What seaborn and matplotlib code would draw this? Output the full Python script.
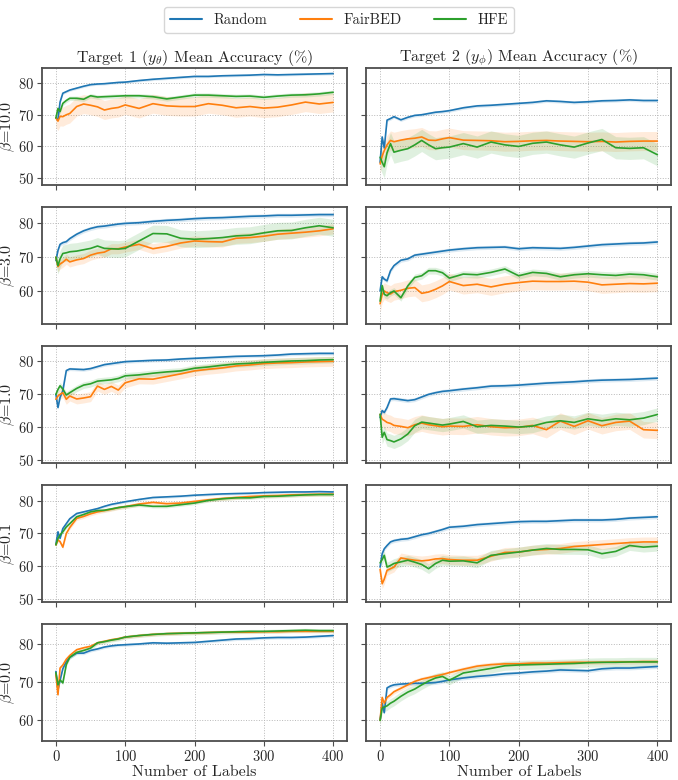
import numpy as np
import matplotlib
matplotlib.use('Agg')
import matplotlib.pyplot as plt
from matplotlib.ticker import MultipleLocator
import seaborn as sns

# Data (mean accuracy %, per number of labels)
X = [0, 3, 6, 10, 15, 20, 30, 40, 50, 60, 70, 80, 90, 100, 120, 140, 160, 180,
     200, 220, 240, 260, 280, 300, 320, 340, 360, 380, 400]

methods = ['Random', 'FairBED', 'HFE']
betas = ['10.0', '3.0', '1.0', '0.1', '0.0']

# Target 1
t1_b10_random = [69, 68.5, 74, 76.8, 77.3, 77.8, 78.4, 79, 79.5, 79.7, 79.8, 80, 80.2, 80.3, 80.8, 81.2, 81.5, 81.8, 82.1, 82.1, 82.3, 82.4, 82.5, 82.7, 82.6, 82.7, 82.8, 82.9, 83.0]
t1_b10_fairbed = [69, 68, 69.5, 69.4, 70, 70.4, 72.6, 73.4, 73, 72.5, 71.5, 72, 72.3, 73.1, 72, 73.5, 72.8, 72.6, 72.6, 73.5, 73, 72.2, 72.6, 72.1, 72.4, 73.1, 74, 73.4, 73.9]
t1_b10_hfe = [69, 72, 71, 73.6, 74.5, 75.2, 75.2, 74.9, 76, 75.6, 75.7, 75.8, 75.9, 76, 76, 75.7, 75, 75.6, 76.2, 76.2, 76, 75.8, 75.9, 75.5, 75.9, 76.2, 76.3, 76.6, 77.1]

t1_b3_random = [69, 72, 73.8, 74.3, 74.6, 75.5, 76.8, 77.8, 78.5, 79, 79.2, 79.5, 79.8, 80, 80.2, 80.6, 80.9, 81.1, 81.4, 81.6, 81.7, 81.9, 82.1, 82.2, 82.4, 82.4, 82.5, 82.6, 82.6]
t1_b3_fairbed = [70, 67.2, 68, 68.5, 69.4, 68.6, 69.2, 69.6, 70.6, 71.2, 71.5, 72.5, 72.5, 73, 73.8, 72.5, 73.2, 74.2, 74.8, 74.6, 74.5, 75.6, 75.8, 76.2, 76.8, 77.1, 77.4, 77.8, 78.4]
t1_b3_hfe = [70, 67.5, 69.5, 71.1, 71.3, 71.6, 71.8, 72.2, 72.6, 73.3, 72.6, 72.5, 72.4, 72.6, 74.8, 77, 76.9, 75.6, 75.3, 75.5, 75.8, 76.3, 76.5, 77.2, 77.8, 77.9, 78.7, 79.3, 78.7]

t1_b1_random = [70, 66, 69.1, 71.1, 77.2, 77.7, 77.6, 77.5, 77.8, 78.4, 79, 79.3, 79.6, 79.9, 80.1, 80.3, 80.4, 80.7, 80.9, 81.1, 81.3, 81.5, 81.6, 81.7, 81.9, 82.2, 82.3, 82.4, 82.4]
t1_b1_fairbed = [68.5, 69.5, 70, 70.5, 68.5, 69.5, 68.6, 68.9, 69.3, 72.5, 71.5, 72.4, 71.3, 73.5, 74.7, 74.6, 75.4, 76.2, 77.1, 77.6, 78, 78.6, 78.9, 79.3, 79.5, 79.6, 79.8, 79.9, 80]
t1_b1_hfe = [70, 71.5, 72.6, 71.6, 69.8, 70.5, 71.8, 72.8, 73.2, 74, 74.2, 74.4, 74.8, 75.6, 75.9, 76.4, 76.8, 77.1, 77.9, 78.3, 78.8, 79.2, 79.4, 79.7, 79.9, 80.1, 80.2, 80.4, 80.5]

t1_b01_random = [66.7, 70.5, 68.5, 71.5, 73, 74.5, 76.1, 76.6, 77.1, 77.6, 78.3, 78.9, 79.3, 79.7, 80.4, 81, 81.2, 81.4, 81.7, 81.9, 82.1, 82.2, 82.3, 82.5, 82.6, 82.7, 82.7, 82.8, 82.7]
t1_b01_fairbed = [66.5, 68, 67.5, 65.8, 70, 71.8, 74.6, 75.2, 76, 76.6, 77, 77.4, 77.9, 78.2, 79, 79.5, 79.1, 79.3, 79.8, 80.3, 80.7, 81, 81.3, 81.5, 81.6, 81.8, 81.9, 82, 82]
t1_b01_hfe = [66.5, 68.5, 69.5, 70.5, 72, 73, 75.1, 75.8, 76.6, 77, 77.1, 77.5, 77.9, 78.2, 78.7, 78.3, 78.3, 78.8, 79.3, 80.1, 80.6, 80.9, 80.9, 81.3, 81.4, 81.6, 81.8, 81.9, 81.9]

t1_b0_random = [72.8, 68, 70.5, 73.5, 75.4, 76.5, 77.6, 77.6, 78.3, 78.7, 79.2, 79.5, 79.7, 79.8, 80, 80.3, 80.2, 80.3, 80.4, 80.7, 81, 81.3, 81.4, 81.6, 81.7, 81.7, 81.8, 82, 82.2]
t1_b0_fairbed = [72, 66.7, 73.7, 74.5, 76, 77, 78.5, 79, 79.4, 80.3, 80.7, 81.1, 81.4, 81.8, 82.2, 82.5, 82.7, 82.8, 82.9, 83, 83.1, 83.1, 83.1, 83.2, 83.2, 83.3, 83.3, 83.3, 83.3]
t1_b0_hfe = [72.5, 69.3, 70.6, 69.8, 74.6, 76.5, 77.8, 78.3, 78.9, 80.3, 80.6, 81, 81.3, 81.8, 82.2, 82.5, 82.7, 82.8, 82.9, 83, 83.1, 83.2, 83.3, 83.3, 83.4, 83.5, 83.6, 83.5, 83.5]

# Target 2
t2_b10_random = [55, 63, 59.5, 68.3, 68.8, 69.4, 68.4, 69.2, 69.8, 70, 70.4, 70.8, 71, 71.3, 72.2, 72.8, 73, 73.3, 73.6, 73.9, 74.4, 74.2, 73.9, 74.1, 74.4, 74.5, 74.7, 74.5, 74.5]
t2_b10_fairbed = [54.5, 57, 58.7, 60.5, 61.9, 61.5, 62, 62.4, 62.6, 63, 62, 61.9, 62.4, 62.8, 62, 61.9, 61.8, 61.5, 61.6, 61.8, 61.9, 61.7, 61.6, 61.5, 61.6, 61.4, 61.6, 61.7, 61.7]
t2_b10_hfe = [56.6, 55, 53.6, 58, 60.9, 58.2, 58.8, 59.3, 60.5, 61.9, 60.5, 59.3, 59.6, 59.8, 60.9, 59.8, 61.4, 60.5, 60, 61, 61.4, 60.5, 59.8, 61.1, 62.2, 59.6, 59.4, 59.6, 57.4]

t2_b3_random = [60, 64.2, 63.5, 63, 66, 67.5, 69.1, 69.5, 70.6, 70.9, 71.2, 71.5, 71.8, 72.1, 72.5, 72.8, 72.9, 73, 72.5, 72.8, 72.7, 72.6, 72.9, 73.3, 73.7, 73.9, 74.1, 74.2, 74.5]
t2_b3_fairbed = [56.2, 59, 60, 59.5, 59.1, 59.8, 60.2, 60.8, 61, 59.3, 59.7, 60.5, 61.5, 62.8, 61.6, 62, 61.2, 62, 62.5, 62.9, 62.8, 62.8, 62.9, 62.6, 61.8, 62, 62.2, 62.1, 62.3]
t2_b3_hfe = [57, 61.6, 59, 58.6, 59.5, 60, 58, 61.5, 64, 64.5, 66, 66, 65.4, 63.8, 65, 64.8, 65.5, 66.5, 64.5, 65.5, 65.2, 64.2, 64.8, 65.1, 64.8, 64.6, 65, 64.8, 64.2]

t2_b1_random = [63, 65.1, 64.5, 66, 68.6, 68.7, 68.4, 68.1, 68.4, 69.2, 70, 70.5, 70.9, 71.1, 71.6, 72, 72.5, 72.6, 72.8, 73.1, 73.4, 73.6, 73.8, 74.1, 74.3, 74.4, 74.5, 74.7, 74.9]
t2_b1_fairbed = [63.9, 62.5, 62.1, 61.5, 61.2, 60.6, 60.3, 59.9, 60.8, 61.3, 60.8, 60.5, 60.2, 60.4, 60.3, 60.8, 60.2, 59.9, 60, 60.6, 59.3, 61.9, 60.3, 62, 60.5, 61.5, 61.9, 59.3, 59.1]
t2_b1_hfe = [64, 57, 58.5, 56.3, 56, 55.6, 56.5, 58, 60.5, 61.6, 61.3, 61, 60.7, 61, 61.8, 60.2, 60.6, 60.4, 60.1, 60.4, 61.5, 62, 61.5, 62.6, 62, 62.6, 62.3, 62.8, 63.9]

t2_b01_random = [59.7, 63.8, 65.3, 66.3, 67.4, 67.8, 68.2, 68.4, 69, 69.6, 70, 70.6, 71.2, 71.9, 72.2, 72.7, 73, 73.3, 73.6, 73.7, 73.7, 73.9, 74.1, 74.1, 74.1, 74.3, 74.7, 74.9, 75.1]
t2_b01_fairbed = [59, 54.6, 56, 58.7, 59.2, 59.7, 62.5, 62.1, 61.8, 61.6, 61.8, 62.2, 62.3, 62, 61.8, 61.8, 63, 64.2, 64.3, 64.9, 65.1, 65.4, 66, 66.3, 66.6, 66.9, 67.2, 67.4, 67.4]
t2_b01_hfe = [61, 62, 63.3, 59.7, 60.2, 60.8, 61.3, 61.8, 61.2, 60.5, 59.2, 60.8, 61.8, 61.5, 61.6, 61, 63.3, 63.8, 64.3, 64.9, 65.4, 65.1, 65.1, 65, 63.8, 64.5, 66.3, 65.8, 66.1]

t2_b0_random = [60, 64.5, 62, 68.5, 69, 69.3, 69.5, 69.6, 69.7, 69.7, 69.8, 69.9, 70.2, 70.6, 71.1, 71.5, 71.8, 72.2, 72.4, 72.7, 72.9, 73.2, 73.1, 73, 73.5, 73.7, 73.7, 73.9, 74.1]
t2_b0_fairbed = [60, 66, 64.5, 66, 66.7, 67.5, 68.4, 69.3, 70.2, 70.8, 71.2, 71.6, 72, 72.5, 73.4, 74.2, 74.6, 74.8, 74.8, 75, 75, 75.1, 75.2, 75.2, 75.2, 75.3, 75.3, 75.4, 75.4]
t2_b0_hfe = [60, 63.2, 63.5, 63.8, 64.5, 65, 66.3, 67.4, 68.2, 69.3, 70.3, 71.1, 71.5, 70.5, 72.4, 73, 73.6, 74.3, 74.5, 74.6, 74.7, 74.8, 74.9, 75.1, 75.2, 75.2, 75.3, 75.3, 75.3]

# half-width of the shaded band (Random, FairBED, HFE)
band_t1 = [[0.4, 3.0, 0.7], [0.6, 1.5, 2.5], [0.5, 1.5, 1.0], [0.4, 0.6, 0.5], [0.4, 0.4, 0.5]]
band_t2 = [[0.5, 3.0, 3.5], [0.6, 2.5, 1.0], [0.6, 2.5, 2.0], [0.6, 1.5, 1.5], [0.5, 0.6, 1.2]]

target1 = [
    [t1_b10_random, t1_b10_fairbed, t1_b10_hfe],
    [t1_b3_random, t1_b3_fairbed, t1_b3_hfe],
    [t1_b1_random, t1_b1_fairbed, t1_b1_hfe],
    [t1_b01_random, t1_b01_fairbed, t1_b01_hfe],
    [t1_b0_random, t1_b0_fairbed, t1_b0_hfe],
]
target2 = [
    [t2_b10_random, t2_b10_fairbed, t2_b10_hfe],
    [t2_b3_random, t2_b3_fairbed, t2_b3_hfe],
    [t2_b1_random, t2_b1_fairbed, t2_b1_hfe],
    [t2_b01_random, t2_b01_fairbed, t2_b01_hfe],
    [t2_b0_random, t2_b0_fairbed, t2_b0_hfe],
]

row_ylims = [(47.8, 84.8), (50.2, 84.9), (49.2, 84.7), (49.0, 84.9), (54.6, 85.3)]

# Style
sns.set_style('whitegrid', {'grid.linestyle': ':', 'grid.color': '0.72',
                            'axes.edgecolor': '0.3', 'xtick.bottom': True,
                            'ytick.left': True})
plt.rcParams['font.family'] = 'serif'
plt.rcParams['font.serif'] = ['cmr10', 'DejaVu Serif']
plt.rcParams['mathtext.fontset'] = 'cm'
plt.rcParams['axes.formatter.use_mathtext'] = True
plt.rcParams['axes.unicode_minus'] = False

colors = sns.color_palette('tab10', 3)

fig, axes = plt.subplots(5, 2, figsize=(6.78, 7.8), dpi=100, sharex=True, sharey='row')
fig.subplots_adjust(left=0.062, right=0.99, top=0.913, bottom=0.05, wspace=0.063, hspace=0.185)

x = np.array(X)
for r in range(5):
    for c, (target, bands) in enumerate([(target1, band_t1), (target2, band_t2)]):
        ax = axes[r, c]
        for m in range(3):
            y = np.array(target[r][m])
            b = bands[r][m]
            ax.fill_between(x, y - b, y + b, color=colors[m], alpha=0.15, lw=0)
            sns.lineplot(x=x, y=y, ax=ax, color=colors[m], lw=1.2, legend=False)
        ax.set_ylim(*row_ylims[r])
        ax.set_xlim(-20, 420)
        ax.set_xticks([0, 100, 200, 300, 400])
        ax.yaxis.set_major_locator(MultipleLocator(10))
        ax.tick_params(axis='both', labelsize=10.5, length=3.5, width=0.8, color='0.3', pad=2)
        for s in ax.spines.values():
            s.set_linewidth(1.3)
        ax.grid(True, linewidth=0.7)
        ax.set_ylabel('')
        ax.set_xlabel('')
        if r == 4:
            ax.set_xlabel('Number of Labels', fontsize=11.5, labelpad=1)
    axes[r, 0].set_ylabel(r'$\beta$=' + betas[r], fontsize=11.5)
    axes[r, 0].yaxis.set_label_coords(-0.082, 0.5)

axes[0, 0].set_title(r'Target 1 ($y_\theta$) Mean Accuracy (%)', fontsize=11.5, pad=3)
axes[0, 1].set_title(r'Target 2 ($y_\phi$) Mean Accuracy (%)', fontsize=11.5, pad=3)

handles = [plt.Line2D([], [], color=colors[m], lw=1.5) for m in range(3)]
fig.legend(handles, methods, loc='upper center', bbox_to_anchor=(0.5, 1.0), ncol=3,
           fontsize=10.5, frameon=True, columnspacing=2.2, handlelength=2.2,
           handletextpad=0.8, fancybox=True, edgecolor='0.8')

plt.savefig('out.png', dpi=100)
plt.close()
